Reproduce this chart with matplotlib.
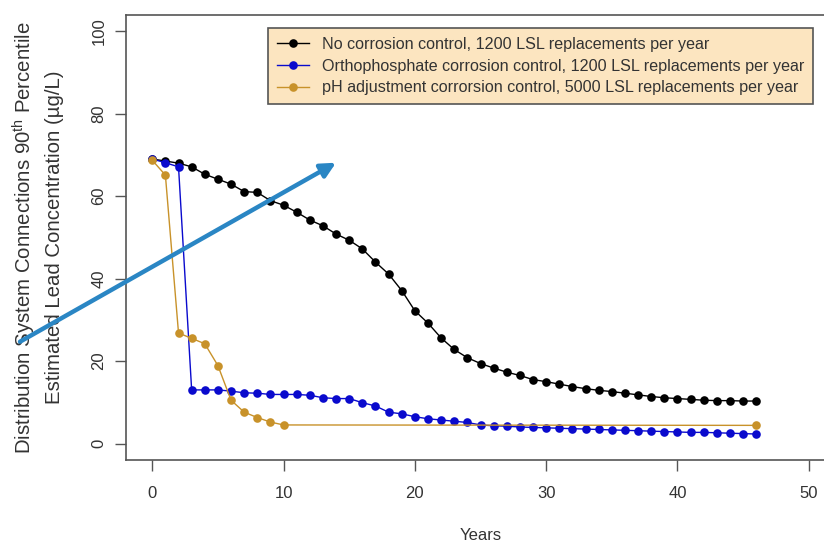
import matplotlib
matplotlib.use("Agg")
import matplotlib.pyplot as plt

plt.rcParams['font.family'] = ['Liberation Sans', 'DejaVu Sans']

years = list(range(0, 47))
no_control = [69.0, 68.5, 68.0, 67.1, 65.3, 64.1, 62.9, 61.1, 60.9, 58.9,
              57.8, 56.1, 54.2, 52.8, 50.8, 49.3, 47.2, 44.0, 41.1, 37.1,
              32.2, 29.2, 25.6, 22.8, 20.8, 19.4, 18.3, 17.3, 16.5, 15.5,
              15.0, 14.4, 13.8, 13.3, 12.9, 12.6, 12.2, 11.8, 11.4, 11.1,
              10.9, 10.7, 10.5, 10.4, 10.4, 10.3, 10.3]
orthophosphate = [69.0, 68.1, 67.1, 13.0, 13.0, 13.0, 12.7, 12.3, 12.2, 11.9,
                  11.9, 11.9, 11.7, 11.1, 10.9, 10.9, 9.9, 9.1, 7.6, 7.2,
                  6.5, 6.0, 5.7, 5.4, 5.1, 4.5, 4.3, 4.2, 4.0, 3.9,
                  3.8, 3.7, 3.6, 3.5, 3.4, 3.3, 3.2, 3.1, 3.0, 2.9,
                  2.8, 2.7, 2.7, 2.6, 2.5, 2.4, 2.3]
ph_years = [0, 1, 2, 3, 4, 5, 6, 7, 8, 9, 10, 46]
ph_adjust = [68.7, 65.1, 26.8, 25.5, 24.2, 18.9, 10.5, 7.6, 6.3, 5.2, 4.5, 4.4]

labels = ["No corrosion control, 1200 LSL replacements per year",
          "Orthophosphate corrosion control, 1200 LSL replacements per year",
          "pH adjustment corrorsion control, 5000 LSL replacements per year"]
xticks = [0, 10, 20, 30, 40, 50]
yticks = [0, 20, 40, 60, 80, 100]

W, H = 824, 544
fig = plt.figure(figsize=(W / 100, H / 100), dpi=100)
ax = fig.add_axes([126 / W, 1 - 460 / H, 709 / W, (460 - 14.7) / H])

c_black = '#000000'
c_blue = '#0a0acd'
c_gold = '#c8922a'

ax.plot(years, no_control, '-o', color=c_black, lw=1.0, ms=6.2, label=labels[0],
        markeredgewidth=0)
ax.plot(years, orthophosphate, '-o', color=c_blue, lw=1.0, ms=6.2, label=labels[1],
        markeredgewidth=0)
ax.plot(ph_years, ph_adjust, '-o', color=c_gold, lw=1.0, ms=6.2, label=labels[2],
        markeredgewidth=0)

ax.set_xlim(-2, 52)
ax.set_ylim(-4, 104)
ax.set_xticks(xticks)
ax.set_yticks(yticks)
ax.tick_params(axis='x', direction='out', length=8, width=1.0, color='#555555',
               labelsize=12, pad=11, labelcolor='#333333')
ax.tick_params(axis='y', direction='out', length=8, width=1.0, color='#555555',
               labelsize=12, pad=6, labelcolor='#333333')
for lab in ax.get_yticklabels():
    lab.set_rotation(90)
    lab.set_va('center')
for sp in ax.spines.values():
    sp.set_color('#555555')
    sp.set_linewidth(1.2)

ax.set_xlabel('Years', fontsize=12, color='#333333', labelpad=19)
ax.set_ylabel('Distribution System Connections 90$^{\\mathregular{th}}$ Percentile\n'
              'Estimated Lead Concentration (µg/L)', fontsize=14.7, color='#333333',
              labelpad=20, linespacing=1.45)

leg = ax.legend(loc='upper right', bbox_to_anchor=(813 / W, 1 - 28 / H),
                bbox_transform=fig.transFigure, fontsize=11.6, frameon=True,
                fancybox=False, facecolor='#fce5c0', edgecolor='#555555',
                framealpha=1, handlelength=2.0, handletextpad=0.8,
                labelspacing=0.42, borderpad=0.55, borderaxespad=0)
leg.get_frame().set_linewidth(1.2)
for t in leg.get_texts():
    t.set_color('#333333')

ax.annotate('', xy=(336, H - 162.7), xytext=(20, H - 341.7),
            xycoords='figure pixels', textcoords='figure pixels',
            arrowprops=dict(arrowstyle='-|>', color='#2a86c4', lw=3.2,
                            mutation_scale=22, shrinkA=0, shrinkB=0),
            annotation_clip=False)

fig.savefig('out.png', dpi=100)
